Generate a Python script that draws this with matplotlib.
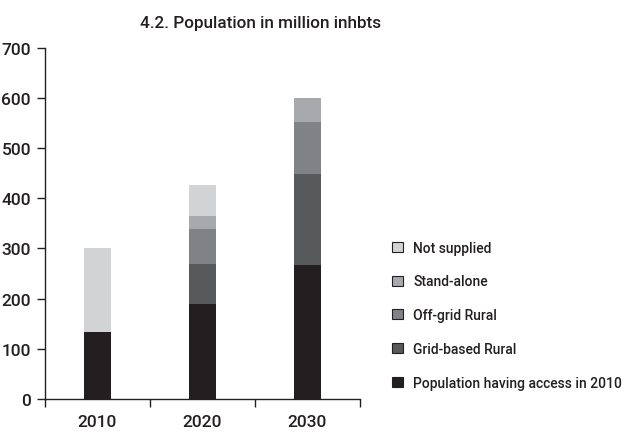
import numpy as np
import matplotlib.pyplot as plt
from matplotlib.patches import Patch

plt.rcParams['font.family'] = ['Roboto', 'DejaVu Sans']

years = ['2010', '2020', '2030']
access_2010 = [134, 189, 267]
grid_rural = [0, 80, 181]
offgrid_rural = [0, 70, 104]
stand_alone = [0, 26, 48]
not_supplied = [166, 61, 0]

series = [
    ('Population having access in 2010', access_2010, '#231f20'),
    ('Grid-based Rural', grid_rural, '#58595b'),
    ('Off-grid Rural', offgrid_rural, '#808285'),
    ('Stand-alone', stand_alone, '#a7a9ac'),
    ('Not supplied', not_supplied, '#d1d3d4'),
]

fig = plt.figure(figsize=(6.3, 4.35), dpi=100)
ax = fig.add_axes([0.0714, 0.0805, 0.4996, 0.8075])

x = np.arange(len(years))
bottom = np.zeros(len(years))
for name, vals, col in series:
    vals = np.array(vals, dtype=float)
    ax.bar(x, vals, width=0.26, bottom=bottom, color=col, linewidth=0)
    bottom += vals

ax.set_xlim(-0.5, 2.5)
ax.set_ylim(0, 700)
ax.set_yticks(range(0, 701, 100))
ax.set_xticks(x)
ax.set_xticklabels(years)
ax.set_xticks([-0.5, 0.5, 1.5, 2.5], minor=True)
ax.tick_params(axis='x', which='major', length=0, pad=11)
ax.tick_params(axis='x', which='minor', length=6, width=1, direction='out', color='#231f20')
ax.tick_params(axis='y', length=6, width=1, color='#231f20', pad=4)
for lab in ax.get_xticklabels() + ax.get_yticklabels():
    lab.set_fontsize(12.5)
    lab.set_fontweight('medium')
    lab.set_color('#231f20')

for s in ['top', 'right']:
    ax.spines[s].set_visible(False)
for s in ['left', 'bottom']:
    ax.spines[s].set_color('#231f20')
    ax.spines[s].set_linewidth(1)

fig.text(0.414, 0.947, '4.2. Population in million inhbts', ha='center', va='center',
         fontsize=12.3, fontweight='medium', color='#231f20')

handles = [Patch(facecolor=col, edgecolor='#231f20', linewidth=0.8, label=name)
           for name, vals, col in series[::-1]]
leg = fig.legend(handles=handles, loc='upper left', bbox_to_anchor=(0.614, 0.457),
                 frameon=False, fontsize=10, handlelength=0.75, handleheight=0.75,
                 handletextpad=0.75, labelspacing=1.42, borderaxespad=0)
for t in leg.get_texts():
    t.set_fontweight('medium')
    t.set_color('#231f20')

fig.savefig('out.png', dpi=100)
